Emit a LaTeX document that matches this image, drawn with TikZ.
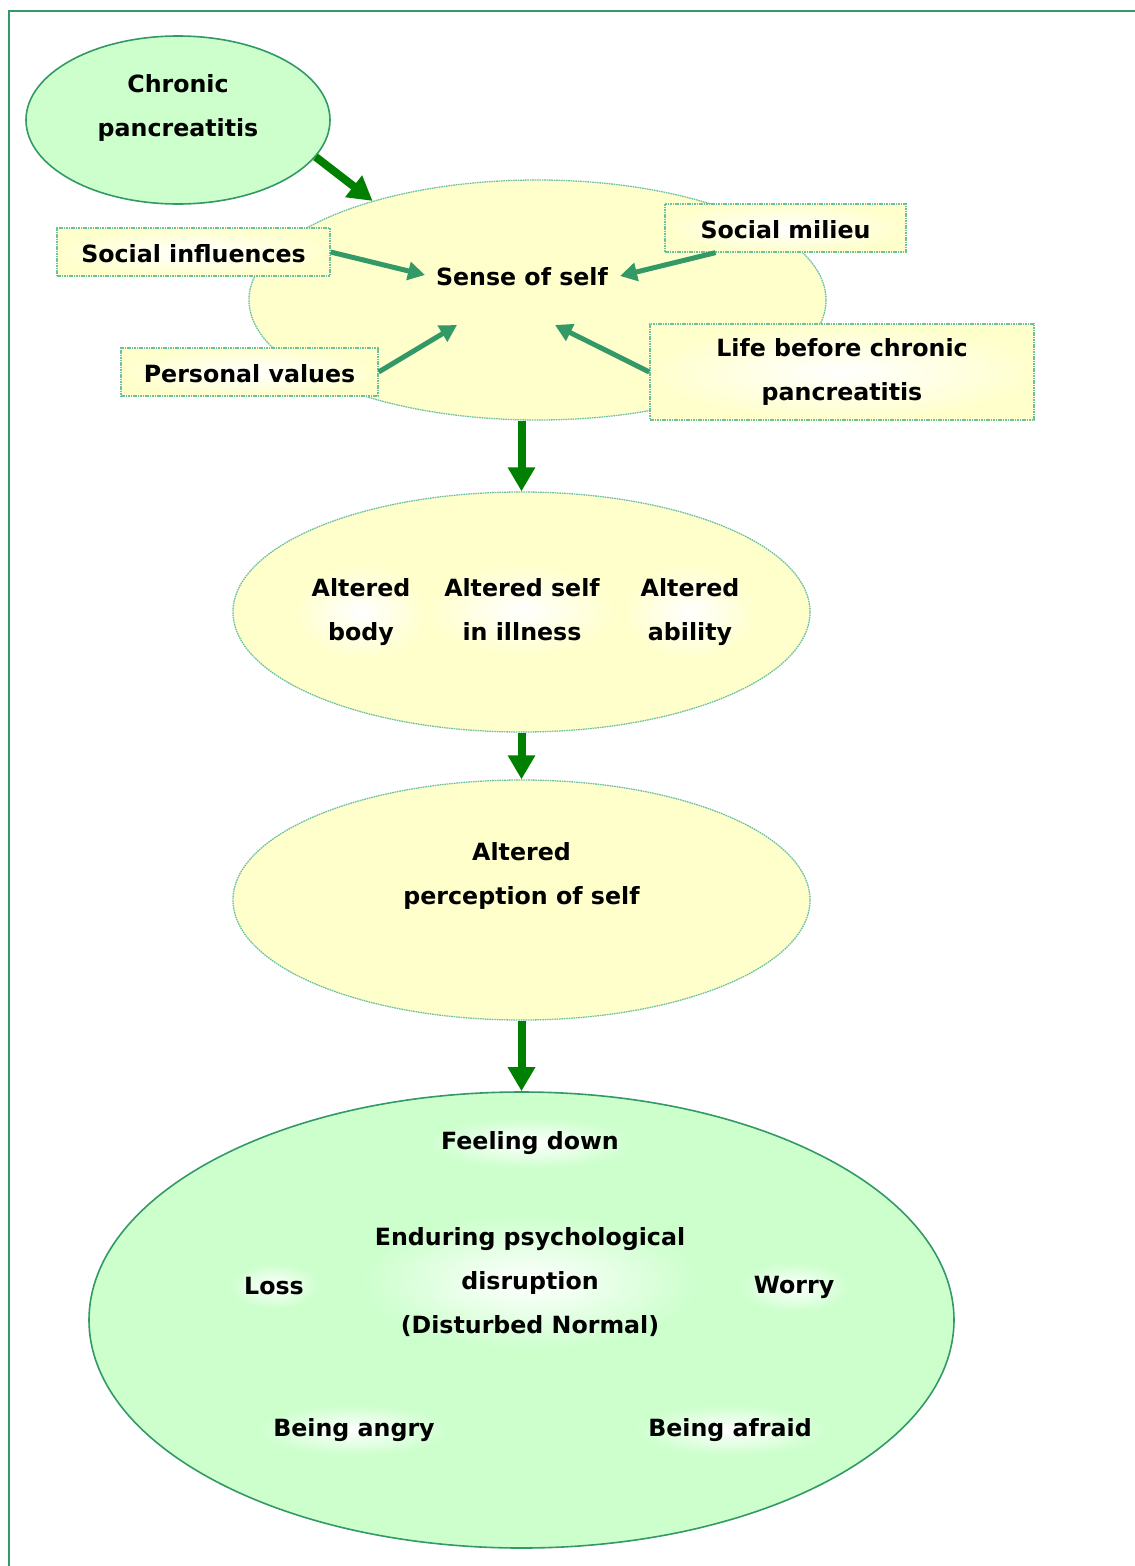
\documentclass[tikz,border=0pt]{standalone}
\usepackage{fontspec}
\setmainfont{DejaVu Sans}
\usetikzlibrary{arrows.meta,shapes.geometric}
\definecolor{sea}{HTML}{339966}
\definecolor{dkgreen}{HTML}{008000}
\definecolor{lgreen}{HTML}{CCFFCC}
\definecolor{lyellow}{HTML}{FFFFCC}
\definecolor{dotc}{HTML}{6DBFA0}
\begin{document}
\begin{tikzpicture}[x=1pt,y=-1pt,
  every node/.style={font=\fontsize{23.7}{44}\selectfont\bfseries, align=center, inner sep=0pt},
  gell/.style={ellipse, draw=sea, line width=1.6pt, fill=lgreen},
  yell/.style={ellipse, draw=dotc, line width=1.3pt, dash pattern=on 1.6pt off 0.8pt, fill=lyellow},
  ybox/.style={rectangle, draw=dotc, line width=1.3pt, dash pattern=on 1.6pt off 0.8pt, inner color=white, outer color=lyellow},
  glowy/.style={inner color=white, outer color=lyellow, inner xsep=16pt, inner ysep=14pt},
  glowg/.style={inner color=white, outer color=lgreen, inner xsep=16pt, inner ysep=14pt},
  bigarrow/.style={draw=dkgreen, line width=8pt, -{Triangle[length=24pt,width=26pt]}},
  midarrow/.style={draw=sea, line width=5pt, -{Triangle[length=17pt,width=18pt]}},
]
\useasboundingbox (0,0) rectangle (1135,1566);
\fill[white] (0,0) rectangle (1135,1566);
% frame
\draw[sea, line width=2pt] (8.5,1566) -- (8.5,10.5) -- (1135,10.5);

% ellipses
\node[gell, minimum width=304pt, minimum height=168pt] (chronic) at (178,120) {};
\node (chronictxt) at (178,108) {Chronic\\pancreatitis};

\node[yell, minimum width=577pt, minimum height=240pt] (sense) at (537.5,300) {};
\node (sensetxt) at (522,277) {Sense of self};

\node[yell, minimum width=577pt, minimum height=240pt] (alt) at (521.5,612) {};
\node[glowy] (altbody) at (361,612) {Altered\\body};
\node[glowy] (altself) at (522,610) {Altered self\\in illness};
\node[glowy] (altability) at (690,612) {Altered\\ability};

\node[yell, minimum width=577pt, minimum height=240pt] (perc) at (521.5,900) {};
\node (perctxt) at (521.5,876) {Altered\\perception of self};

\node[gell, minimum width=865pt, minimum height=456pt] (big) at (521.5,1320) {};
\node[glowg] (feel) at (530,1143) {Feeling down};
\node[glowg] (endur) at (530,1282) {Enduring psychological\\disruption\\(Disturbed Normal)};
\node[glowg] (loss) at (274,1286) {Loss};
\node[glowg] (worry) at (794,1287) {Worry};
\node[glowg] (angry) at (354,1430) {Being angry};
\node[glowg] (afraid) at (730,1430) {Being afraid};

% boxes
\node[ybox, minimum width=273pt, minimum height=48pt, text height=21pt, text depth=1pt] (social) at (193.5,252) {Social influences};
\node[ybox, minimum width=241pt, minimum height=48pt, text height=21pt, text depth=1pt] (milieu) at (785.5,228) {Social milieu};
\node[ybox, minimum width=257pt, minimum height=48pt, text height=21pt, text depth=1pt] (personal) at (249.5,372) {Personal values};
\node[ybox, minimum width=384pt, minimum height=96pt] (life) at (842,372) {Life before chronic\\pancreatitis};

% arrow tips (free ends)
\coordinate (tsocial) at (425,275);
\coordinate (tmilieu) at (620,276);
\coordinate (tpersonal) at (457,325);
\coordinate (tlife) at (555,325);

% connectors
\draw[bigarrow] (chronic.-15) -- (sense.149);
\draw[midarrow] (social.east) -- (tsocial);
\draw[midarrow] ([xshift=-70pt]milieu.south) -- (tmilieu);
\draw[midarrow] (personal.east) -- (tpersonal);
\draw[midarrow] (life.west) -- (tlife);
\draw[bigarrow] (alt.north |- sense.south) -- (alt.north);
\draw[bigarrow] (alt.south) -- (perc.north);
\draw[bigarrow] (perc.south) -- (big.north);
\end{tikzpicture}
\end{document}
